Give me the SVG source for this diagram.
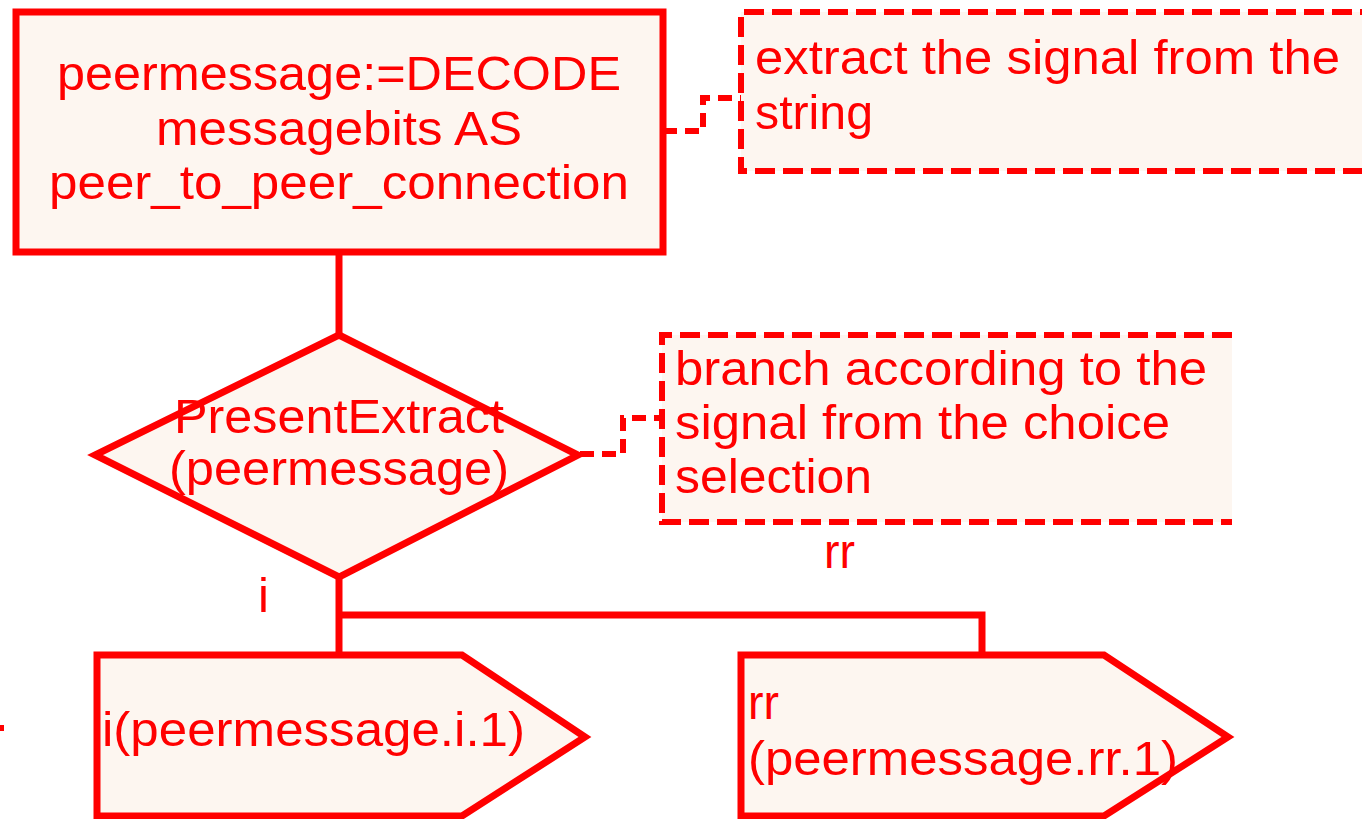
<svg xmlns="http://www.w3.org/2000/svg" width="1362" height="819" viewBox="0 0 1362 819">
  <style>
    .shape { fill: #fdf6f0; stroke: #ff0000; stroke-width: 7; stroke-linejoin: miter; }
    .fill { fill: #fdf6f0; stroke: none; }
    .bracket { fill: none; stroke: #ff0000; stroke-width: 6; stroke-dasharray: 20 8; }
    .line { fill: none; stroke: #ff0000; stroke-width: 7; }
    .dash { fill: none; stroke: #ff0000; stroke-width: 6; stroke-dasharray: 14 8; }
    text { font-family: "Liberation Sans", Arial, sans-serif; font-size: 49px; fill: #ff0000; }
    .c { text-anchor: middle; }
  </style>
  <rect width="1362" height="819" fill="#ffffff"/>

  <!-- connectors -->
  <g id="connectors">
    <path class="line" d="M339,252 V335"/>
    <path class="line" d="M339,577 V655"/>
    <path class="line" d="M339,615 H982 V655"/>
    <path class="dash" d="M663,131 H703 V98 H741"/>
    <path class="dash" d="M580,454 H623 V418 H662"/>
  </g>

  <!-- task: decode -->
  <g id="decode">
    <rect class="shape" x="16" y="12" width="647" height="240"/>
    <text class="c" x="339" y="90" textLength="564" lengthAdjust="spacingAndGlyphs">peermessage:=DECODE</text>
    <text class="c" x="339" y="145" textLength="366" lengthAdjust="spacingAndGlyphs">messagebits AS</text>
    <text class="c" x="339" y="199" textLength="580" lengthAdjust="spacingAndGlyphs">peer_to_peer_connection</text>
  </g>

  <!-- comment on decode -->
  <g id="note-extract">
    <rect class="fill" x="741" y="12" width="640" height="159"/>
    <path class="bracket" d="M1380,12 H741 V171 H1380"/>
    <text x="755" y="74" textLength="585" lengthAdjust="spacingAndGlyphs">extract the signal from the</text>
    <text x="755" y="129" textLength="118" lengthAdjust="spacingAndGlyphs">string</text>
  </g>

  <!-- decision -->
  <g id="decision">
    <polygon class="shape" points="339,335 578,455 339,577 95,455"/>
    <text class="c" x="339" y="433" textLength="330" lengthAdjust="spacingAndGlyphs">PresentExtract</text>
    <text class="c" x="339" y="485" textLength="340" lengthAdjust="spacingAndGlyphs">(peermessage)</text>
  </g>

  <!-- comment on decision -->
  <g id="note-branch">
    <rect class="fill" x="662" y="335" width="570" height="187"/>
    <path class="bracket" d="M1232,335 H662 V522 H1232"/>
    <text x="675" y="385" textLength="532" lengthAdjust="spacingAndGlyphs">branch according to the</text>
    <text x="675" y="439" textLength="495" lengthAdjust="spacingAndGlyphs">signal from the choice</text>
    <text x="675" y="493" textLength="197" lengthAdjust="spacingAndGlyphs">selection</text>
  </g>

  <!-- answer labels -->
  <g id="label-i">
    <text x="258" y="612">i</text>
  </g>
  <g id="label-rr">
    <text x="824" y="568" textLength="31" lengthAdjust="spacingAndGlyphs">rr</text>
  </g>

  <!-- output signal i -->
  <g id="output-i">
    <polygon class="shape" points="97,655 462,655 585,737 462,816 97,816"/>
    <text x="102" y="746" textLength="423" lengthAdjust="spacingAndGlyphs">i(peermessage.i.1)</text>
  </g>

  <!-- output signal rr -->
  <g id="output-rr">
    <polygon class="shape" points="741,655 1104,655 1228,737 1104,816 741,816"/>
    <text x="748" y="719" textLength="31" lengthAdjust="spacingAndGlyphs">rr</text>
    <text x="748" y="775" textLength="430" lengthAdjust="spacingAndGlyphs">(peermessage.rr.1)</text>
  </g>

  <!-- page edge mark -->
  <rect x="0" y="725" width="4" height="6" fill="#ff0000"/>
</svg>
